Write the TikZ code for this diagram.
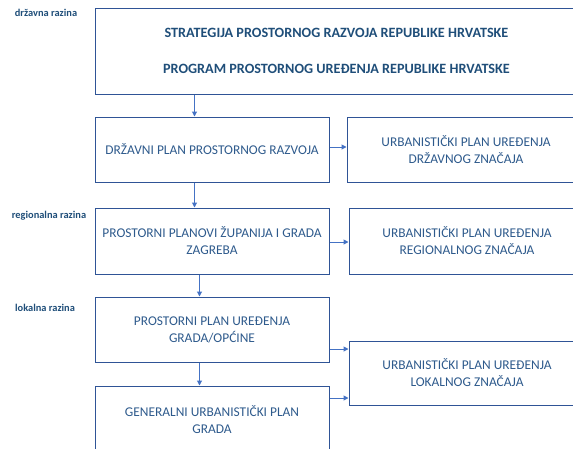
\documentclass[tikz,border=0pt]{standalone}
\usepackage{fontspec}
\setmainfont{Carlito}
\usetikzlibrary{positioning,arrows.meta}

\definecolor{boxblue}{HTML}{2F5496}
\definecolor{arrowblue}{HTML}{4472C4}
\definecolor{textblue}{HTML}{2E5A8C}
\definecolor{titleblue}{HTML}{1F4E79}

\tikzset{
    planbox/.style={draw=boxblue, line width=1pt, rectangle, align=center,
        text=textblue, font=\fontsize{13.4}{17}\selectfont, inner sep=0pt},
    levellabel/.style={text=titleblue, font=\fontsize{10.4}{12}\selectfont\bfseries, inner sep=0pt},
    flow/.style={-{Triangle[length=5pt,width=5pt]}, draw=arrowblue, line width=1pt}
}

\begin{document}
\begin{tikzpicture}[x=1pt, y=-1pt]

    \useasboundingbox (0,0) rectangle (573,448);
    \clip (0,0) rectangle (573,448);

    % Razine
    \node [levellabel] (drzavna) at (46,13) {državna razina};
    \node [levellabel] (regionalna) at (49,216) {regionalna razina};
    \node [levellabel] (lokalna) at (45,308) {lokalna razina};

    % Strategija i program
    \node [planbox, minimum width=483pt, minimum height=86pt,
        text=titleblue, font=\fontsize{14.2}{36}\selectfont\bfseries] (strategija) at (336.5,51)
        {STRATEGIJA PROSTORNOG RAZVOJA REPUBLIKE HRVATSKE\\PROGRAM PROSTORNOG UREĐENJA REPUBLIKE HRVATSKE};

    % Lijevi stupac
    \node [planbox, minimum width=234pt, minimum height=65pt] (drzavniplan) at (212,149.5)
        {DRŽAVNI PLAN PROSTORNOG RAZVOJA};
    \node [planbox, minimum width=234pt, minimum height=66pt] (zupanije) at (212,241)
        {PROSTORNI PLANOVI ŽUPANIJA I GRADA\\ZAGREBA};
    \node [planbox, minimum width=234pt, minimum height=65pt] (ppuo) at (212,329.5)
        {PROSTORNI PLAN UREĐENJA\\GRADA/OPĆINE};
    \node [planbox, minimum width=234pt, minimum height=68pt] (gup) at (212,420)
        {GENERALNI URBANISTIČKI PLAN\\GRADA};

    % Desni stupac
    \node [planbox, minimum width=238pt, minimum height=65pt] (upudrzavni) at (466,149.5)
        {URBANISTIČKI PLAN UREĐENJA\\DRŽAVNOG ZNAČAJA};
    \node [planbox, minimum width=236pt, minimum height=66pt] (upuregionalni) at (467,241)
        {URBANISTIČKI PLAN UREĐENJA\\REGIONALNOG ZNAČAJA};
    \node [planbox, minimum width=236pt, minimum height=64pt] (upulokalni) at (467,373)
        {URBANISTIČKI PLAN UREĐENJA\\LOKALNOG ZNAČAJA};

    % Strelice prema dolje
    \draw [flow] ([xshift=100pt]strategija.south west) -- ([xshift=100pt]drzavniplan.north west);
    \draw [flow] ([xshift=100pt]drzavniplan.south west) -- ([xshift=100pt]zupanije.north west);
    \draw [flow] ([xshift=105pt]zupanije.south west) -- ([xshift=105pt]ppuo.north west);
    \draw [flow] ([xshift=105pt]ppuo.south west) -- ([xshift=105pt]gup.north west);

    % Strelice prema desno
    \draw [flow] ([yshift=2.5pt]drzavniplan.east) -- ([yshift=2.5pt]drzavniplan.east -| upudrzavni.west);
    \draw [flow] ([yshift=-1pt]zupanije.east) -- ([yshift=-1pt]zupanije.east -| upuregionalni.west);
    \draw [flow] ([yshift=-19.5pt]ppuo.east) -- ([yshift=-19.5pt]ppuo.east -| upulokalni.west);
    \draw [flow] ([yshift=22pt]gup.east) -- ([yshift=22pt]gup.east -| upulokalni.west);

\end{tikzpicture}
\end{document}
